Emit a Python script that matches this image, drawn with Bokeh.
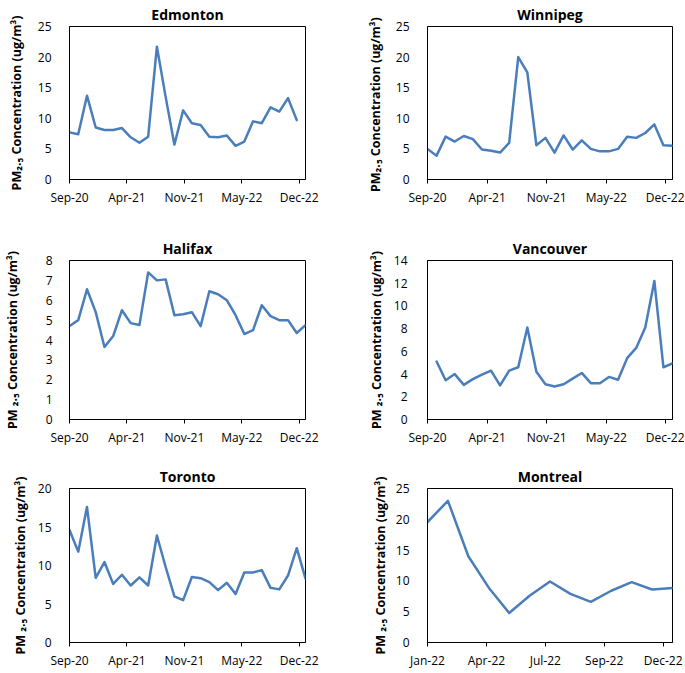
from bokeh.plotting import figure
from bokeh.layouts import gridplot
from bokeh.models import Range1d, FixedTicker
from bokeh.embed import file_html
from bokeh.resources import INLINE

# ---------------- data ----------------
months_a = ["Sep-20", "Oct-20", "Nov-20", "Dec-20", "Jan-21", "Feb-21", "Mar-21",
            "Apr-21", "May-21", "Jun-21", "Jul-21", "Aug-21", "Sep-21", "Oct-21",
            "Nov-21", "Dec-21", "Jan-22", "Feb-22", "Mar-22", "Apr-22", "May-22",
            "Jun-22", "Jul-22", "Aug-22", "Sep-22", "Oct-22", "Nov-22", "Dec-22"]
months_b = ["Jan-22", "Feb-22", "Mar-22", "Apr-22", "May-22", "Jun-22", "Jul-22",
            "Aug-22", "Sep-22", "Oct-22", "Nov-22", "Dec-22", "Jan-23"]

tick_labels_a = ["Sep-20", "Apr-21", "Nov-21", "May-22", "Dec-22"]
tick_labels_b = ["Jan-22", "Apr-22", "Jul-22", "Sep-22", "Dec-22"]

edmonton_months = months_a[0:27]
edmonton = [7.7, 7.4, 13.7, 8.5, 8.1, 8.1, 8.4, 6.9, 6.0, 7.0, 21.7, 13.5, 5.7, 11.3,
            9.2, 8.9, 7.0, 6.9, 7.2, 5.5, 6.2, 9.5, 9.2, 11.8, 11.1, 13.3, 9.7]

winnipeg_months = months_a[0:28]
winnipeg = [5.0, 3.9, 7.0, 6.2, 7.1, 6.6, 4.9, 4.7, 4.4, 6.0, 20.0, 17.5, 5.6, 6.8,
            4.4, 7.2, 4.9, 6.4, 5.0, 4.6, 4.6, 5.0, 7.0, 6.8, 7.6, 9.0, 5.6, 5.5]

halifax_months = months_a[0:28]
halifax = [4.7, 5.0, 6.55, 5.4, 3.65, 4.2, 5.5, 4.85, 4.75, 7.4, 7.0, 7.05, 5.25, 5.3,
           5.4, 4.7, 6.45, 6.3, 6.0, 5.25, 4.3, 4.5, 5.75, 5.2, 5.0, 5.0, 4.35, 4.75]

vancouver_months = months_a[1:28]
vancouver = [5.1, 3.45, 4.0, 3.05, 3.55, 3.95, 4.3, 3.0, 4.3, 4.6, 8.1, 4.2, 3.1, 2.9,
             3.1, 3.6, 4.1, 3.2, 3.2, 3.75, 3.5, 5.4, 6.3, 8.1, 12.2, 4.6, 4.95]

toronto_months = months_a[0:28]
toronto = [14.6, 11.8, 17.6, 8.4, 10.45, 7.6, 8.8, 7.4, 8.45, 7.4, 13.9, 9.8, 6.0, 5.5,
           8.5, 8.35, 7.85, 6.8, 7.75, 6.3, 9.1, 9.1, 9.4, 7.1, 6.9, 8.7, 12.25, 8.3]

montreal_months = months_b[0:13]
montreal = [19.55, 23.0, 14.0, 8.9, 4.8, 7.6, 9.9, 7.9, 6.6, 8.4, 9.8, 8.6, 8.85]

# ---------------- layout / style ----------------
LINE_COLOR = "#4A7EBB"
FONT = "Open Sans"
STEP_A, END_A = 6.57, 27
STEP_B, END_B = 2.885, 12

LBL1 = "PM\u2082.\u2085 Concentration (ug/m\u00b3)"
LBL2 = "PM\u2082.\u2085  Concentration (ug/m\u00b3)"
LBL3 = "PM \u2082.\u2085 Concentration (ug/m\u00b3)"


def panel(title, months, axis_months, values, tick_labels, step, x_end,
          y_max, y_step, ylabel, w, h, bl, br, bt, bb, std, lstd):
    p = figure(width=w, height=h, output_backend="svg", toolbar_location=None,
               tools="", x_range=Range1d(0, x_end), y_range=Range1d(0, y_max),
               min_border_left=bl, min_border_right=br,
               min_border_top=bt, min_border_bottom=bb)
    p.background_fill_color = "white"
    p.border_fill_color = "white"
    p.outline_line_color = "black"
    p.outline_line_width = 1
    p.outline_line_alpha = 1
    p.xgrid.visible = False
    p.ygrid.visible = False

    p.title.text = title
    p.title.text_font = FONT
    p.title.text_font_style = "bold"
    p.title.text_font_size = "14px"
    p.title.text_color = "black"
    p.title.align = "center"
    p.title.standoff = 5

    ticks = [i * step for i in range(len(tick_labels))]
    xa = p.xaxis[0]
    xa.ticker = FixedTicker(ticks=ticks, minor_ticks=[])
    xa.major_label_overrides = {t: lab for t, lab in zip(ticks, tick_labels)}
    xa.major_tick_out = 4
    xa.major_tick_in = 0
    xa.major_tick_line_color = "black"
    xa.axis_line_color = "black"
    xa.major_label_text_font = FONT
    xa.major_label_text_font_size = "12px"
    xa.major_label_text_color = "black"
    xa.major_label_standoff = 5

    ya = p.yaxis[0]
    ya.ticker = FixedTicker(ticks=list(range(0, y_max + 1, y_step)), minor_ticks=[])
    ya.major_tick_line_color = None
    ya.minor_tick_line_color = None
    ya.axis_line_color = "black"
    ya.major_label_text_font = FONT
    ya.major_label_text_font_size = "12px"
    ya.major_label_text_color = "black"
    ya.major_label_standoff = std
    ya.axis_label = ylabel
    ya.axis_label_text_font = FONT
    ya.axis_label_text_font_style = "bold"
    ya.axis_label_text_font_size = "12.5px"
    ya.axis_label_text_color = "black"
    ya.axis_label_standoff = lstd

    xs = [axis_months.index(m) for m in months]
    p.line(xs, values, line_color=LINE_COLOR, line_width=2.5,
           line_join="round", line_cap="round")
    return p


p_ed = panel("Edmonton", edmonton_months, months_a, edmonton, tick_labels_a, STEP_A, END_A,
             25, 5, LBL1, 340, 233, 58, 34, 26, 54, 12, 10)
p_wi = panel("Winnipeg", winnipeg_months, months_a, winnipeg, tick_labels_a, STEP_A, END_A,
             25, 5, LBL2, 344, 233, 81, 12, 26, 54, 12, 9)
p_ha = panel("Halifax", halifax_months, months_a, halifax, tick_labels_a, STEP_A, END_A,
             8, 1, LBL3, 340, 229, 58, 34, 27, 43, 11, 22)
p_va = panel("Vancouver", vancouver_months, months_a, vancouver, tick_labels_a, STEP_A, END_A,
             14, 2, LBL3, 344, 229, 82, 12, 27, 43, 14, 6)
p_to = panel("Toronto", toronto_months, months_a, toronto, tick_labels_a, STEP_A, END_A,
             20, 5, LBL3, 340, 209, 53, 35, 26, 26, 12, 6)
p_mo = panel("Montreal", montreal_months, months_b, montreal, tick_labels_b, STEP_B, END_B,
             25, 5, LBL3, 344, 209, 87, 8, 26, 26, 12, 4)

grid = gridplot([[p_ed, p_wi], [p_ha, p_va], [p_to, p_mo]], toolbar_location=None)

open("out.html", "w").write(file_html(grid, INLINE, title="PM2.5"))
